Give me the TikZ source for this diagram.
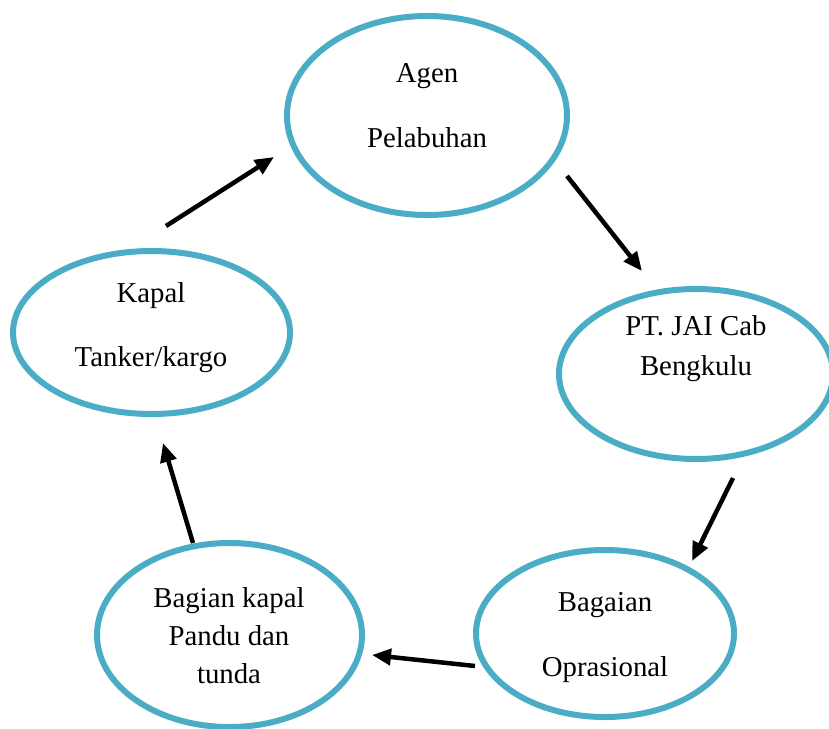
\documentclass[tikz,border=0pt]{standalone}
\usepackage{fontspec}
\setmainfont{Liberation Serif}
\usepackage{tikz}
\usetikzlibrary{arrows.meta,shapes.geometric}
\definecolor{ringblue}{RGB}{75,172,198}

\begin{document}
\begin{tikzpicture}[x=1pt,y=-1pt,
    ring/.style={draw=ringblue,line width=6pt,ellipse,inner sep=0pt},
    lbl/.style={anchor=base,inner sep=0pt,font=\fontsize{28.8}{37}\selectfont},
    flow/.style={-{Triangle[length=19pt,width=16pt]},line width=4.5pt,black}]
  \useasboundingbox (0,0) rectangle (829,728);
  \clip (0,0) rectangle (829,728);
  % the five stations
  \foreach \n/\x/\y/\w/\h in {1/427/115.5/280/199,2/696/374/274/170,3/605/633.5/258/167,4/229.5/635/265/184,5/151.5/332.5/277/163}{
    \node[ring,minimum width=\w pt,minimum height=\h pt] (e\n) at (\x,\y) {};
  }
  % texts, one line each
  \foreach \n/\x/\y/\t in {1a/427/82/Agen,1b/427/147/Pelabuhan,
      2a/696/335/PT. JAI Cab,2b/696/375/Bengkulu,
      3a/605/611/Bagaian,3b/605/676/Oprasional,
      4a/229/607/Bagian kapal,4b/229/645/Pandu dan,4c/229/683/tunda,
      5a/151/302/Kapal,5b/151/366/{Tanker/kargo}}{
    \node[lbl] (t\n) at (\x,\y) {\t};
  }
  % arrow ends
  \coordinate (p5) at (166,226);  \coordinate (q1) at (274,157);
  \coordinate (p1) at (567,176);  \coordinate (q2) at (642,271);
  \coordinate (p2) at (733,478);  \coordinate (q3) at (692,561);
  \coordinate (p3) at (475,666);  \coordinate (q4) at (372,655);
  \coordinate (p4) at (193,543);  \coordinate (q5) at (163,443);
  \foreach \a/\b in {p5/q1,p1/q2,p2/q3,p3/q4,p4/q5}{
    \draw[flow] (\a) -- (\b);
  }
\end{tikzpicture}
\end{document}
